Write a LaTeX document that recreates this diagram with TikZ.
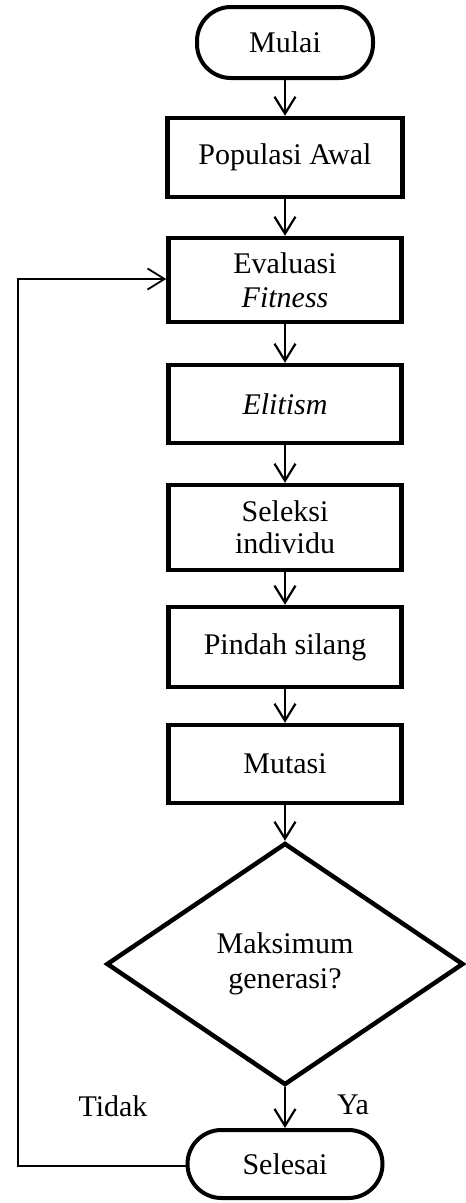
\documentclass[tikz,border=0pt]{standalone}
\usepackage{fontspec}
\setmainfont{Liberation Serif}
\usetikzlibrary{arrows.meta,shapes.geometric}
\begin{document}
\begin{tikzpicture}[x=1pt,y=-1pt,
  every node/.style={font=\fontsize{30}{35}\selectfont},
  procbox/.style={draw,line width=4.5pt,rectangle,minimum width=233pt,inner sep=0pt,align=center},
  termbox/.style={draw,line width=4pt,rectangle,rounded corners=34pt,inner sep=0pt},
  decbox/.style={draw,line width=4.5pt,diamond,minimum width=357pt,minimum height=242pt,inner sep=0pt,align=center},
  flow/.style={line width=2.2pt,-{Straight Barb[length=17pt,width=21pt,line width=2.2pt]}},
  plain/.style={draw=none,inner sep=0pt}
]
\useasboundingbox (0,0) rectangle (466,1203);
\fill[white] (0,0) rectangle (466,1203);

\node[termbox,minimum width=176pt,minimum height=71pt] (mulai) at (285,42.5) {Mulai};
\node[procbox,minimum width=235pt,minimum height=79pt] (pop) at (285,157.5) {Populasi Awal};
\node[procbox,minimum height=84pt] (eval) at (285,280) {Evaluasi\\[-1pt]\textit{Fitness}};
\node[procbox,minimum height=78pt] (elit) at (285,404) {\textit{Elitism}};
\node[procbox,minimum height=85pt] (sel) at (285,527.5) {Seleksi\\[-3pt]individu};
\node[procbox,minimum height=80pt] (pindah) at (285,647) {Pindah silang};
\node[procbox,minimum height=78pt] (mut) at (285,764) {Mutasi};
\node[decbox] (dec) at (285,964) {Maksimum\\generasi?};
\node[termbox,minimum width=195pt,minimum height=68pt] (selesai) at (285,1164) {Selesai};

\node[plain] (tidak) at (113,1106) {Tidak};
\node[plain] (ya) at (353,1105) {Ya};

\coordinate (lb) at (18,1166);
\coordinate (lt) at (18,279);

\draw[flow] (mulai.south) -- (pop.north);
\draw[flow] (pop.south) -- (eval.north);
\draw[flow] (eval.south) -- (elit.north);
\draw[flow] (elit.south) -- (sel.north);
\draw[flow] (sel.south) -- (pindah.north);
\draw[flow] (pindah.south) -- (mut.north);
\draw[flow] (mut.south) -- (dec.north);
\draw[flow] (dec.south) -- (selesai.north);
\draw[line width=1.8pt,-{Straight Barb[length=17pt,width=21pt,line width=1.8pt]}]
  (selesai.west |- lb) -- (lb) -- (lt) -- (eval.west |- lt);
\end{tikzpicture}
\end{document}
